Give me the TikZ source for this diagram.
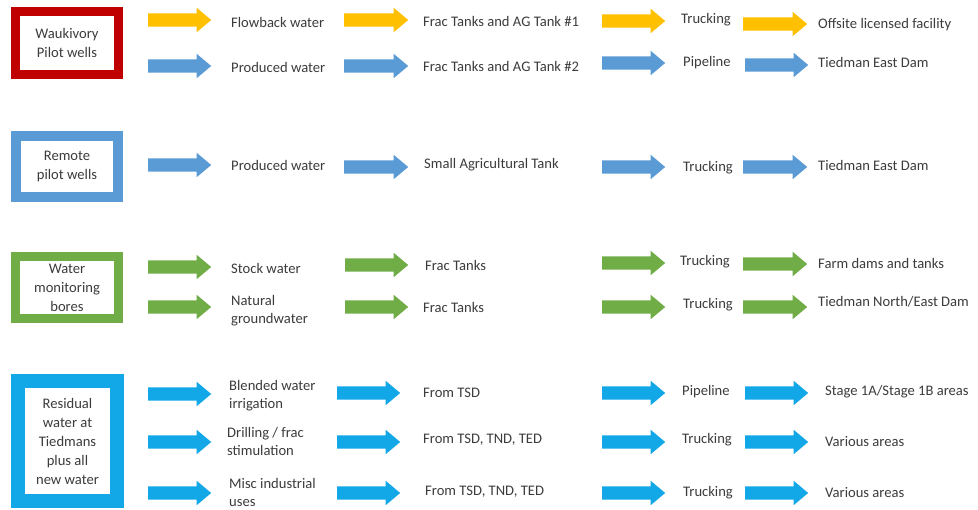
\documentclass[tikz,border=0pt]{standalone}
\usepackage{fontspec}
\setmainfont{Carlito}
\usetikzlibrary{shapes.arrows}
\definecolor{txt}{HTML}{3C3C3C}
\definecolor{cred}{HTML}{C00000}
\definecolor{cblue}{HTML}{5B9BD5}
\definecolor{cgreen}{HTML}{70AD47}
\definecolor{ccyan}{HTML}{12A8E8}
\definecolor{cyel}{HTML}{FFC000}
\tikzset{
  blk/.style={single arrow, fill=#1, draw=none, inner xsep=0pt, inner ysep=6.5pt,
    single arrow head extend=5.5pt, single arrow tip angle=80, anchor=west},
  lbl/.style={anchor=west, inner sep=0pt, text=txt, align=left,
    font=\fontsize{14.6}{18}\selectfont},
  srcbox/.style={draw=#1, fill=white, text=txt, align=center, inner sep=0pt,
    font=\fontsize{14.6}{19}\selectfont}
}
\newcommand\arr[5]{\node[blk=#2, minimum height={(#4-#3)*1pt}] (#1) at (#3,#5) {};}
\begin{document}
\begin{tikzpicture}[x=1pt,y=-1pt]
\useasboundingbox[fill=white] (0,0) rectangle (978,510);
% source boxes
\node[srcbox=cred, line width=9pt, minimum width=103pt, minimum height=63pt] (b1) at (67,43) {Waukivory\\Pilot wells};
\node[srcbox=cblue, line width=10pt, minimum width=102pt, minimum height=61pt] (b2) at (67,166.5) {Remote\\pilot wells};
\node[srcbox=cgreen, line width=9pt, minimum width=103pt, minimum height=62pt] (b3) at (67,287.5) {Water\\monitoring\\bores};
\node[srcbox=ccyan, line width=14pt, minimum width=99pt, minimum height=120pt] (b4) at (67.5,441) {Residual\\water at\\Tiedmans\\plus all\\new water};
% row 1
\arr{a11}{cyel}{148}{211}{20}
\node[lbl] (t11) at (231,22) {Flowback water};
\arr{a12}{cyel}{344}{408}{20}
\node[lbl] (t12) at (423,21) {Frac Tanks and AG Tank \#1};
\arr{a13}{cyel}{602}{665}{21}
\node[lbl] (t13) at (681,20) {Trucking};
\arr{a14}{cyel}{743}{807}{24}
\node[lbl] (t14) at (818,25) {Offsite licensed facility};
% row 2
\arr{a21}{cblue}{148}{211}{66}
\node[lbl] (t21) at (231,67) {Produced water};
\arr{a22}{cblue}{344}{408}{66}
\node[lbl] (t22) at (423,66) {Frac Tanks and AG Tank \#2};
\arr{a23}{cblue}{602}{665}{63}
\node[lbl] (t23) at (683,63) {Pipeline};
\arr{a24}{cblue}{745}{808}{65}
\node[lbl] (t24) at (818,62) {Tiedman East Dam};
% row 3
\arr{a31}{cblue}{148}{211}{165}
\node[lbl] (t31) at (231,165) {Produced water};
\arr{a32}{cblue}{344}{408}{167}
\node[lbl] (t32) at (424,165) {Small Agricultural Tank};
\arr{a33}{cblue}{602}{665}{167}
\node[lbl] (t33) at (683,168) {Trucking};
\arr{a34}{cblue}{743}{807}{167}
\node[lbl] (t34) at (818,165) {Tiedman East Dam};
% row 4
\arr{a41}{cgreen}{148}{211}{267}
\node[lbl] (t41) at (231,268) {Stock water};
\arr{a42}{cgreen}{345}{408}{265}
\node[lbl] (t42) at (425,265) {Frac Tanks};
\arr{a43}{cgreen}{602}{665}{263}
\node[lbl] (t43) at (680,262) {Trucking};
\arr{a44}{cgreen}{743}{807}{264}
\node[lbl] (t44) at (818,263) {Farm dams and tanks};
% row 5
\arr{a51}{cgreen}{148}{211}{307}
\node[lbl] (t51) at (231,311) {Natural\\groundwater};
\arr{a52}{cgreen}{345}{408}{307}
\node[lbl] (t52) at (423,307) {Frac Tanks};
\arr{a53}{cgreen}{602}{665}{307}
\node[lbl] (t53) at (683,305) {Trucking};
\arr{a54}{cgreen}{743}{807}{307}
\node[lbl] (t54) at (818,302) {Tiedman North/East Dam};
% row 6
\arr{a61}{ccyan}{148}{211}{394}
\node[lbl] (t61) at (229,396) {Blended water\\irrigation};
\arr{a62}{ccyan}{337}{400}{393}
\node[lbl] (t62) at (423,393) {From TSD};
\arr{a63}{ccyan}{602}{665}{393}
\node[lbl] (t63) at (682,392) {Pipeline};
\arr{a64}{ccyan}{745}{808}{393}
\node[lbl] (t64) at (825,392) {Stage 1A/Stage 1B areas};
% row 7
\arr{a71}{ccyan}{148}{211}{442}
\node[lbl] (t71) at (227,441) {Drilling / frac\\stimulation};
\arr{a72}{ccyan}{337}{400}{442}
\node[lbl] (t72) at (423,440) {From TSD, TND, TED};
\arr{a73}{ccyan}{602}{665}{442}
\node[lbl] (t73) at (682,440) {Trucking};
\arr{a74}{ccyan}{745}{808}{442}
\node[lbl] (t74) at (825,442) {Various areas};
% row 8
\arr{a81}{ccyan}{148}{211}{493}
\node[lbl] (t81) at (229,492) {Misc industrial\\uses};
\arr{a82}{ccyan}{337}{400}{493}
\node[lbl] (t82) at (425,492) {From TSD, TND, TED};
\arr{a83}{ccyan}{602}{665}{493}
\node[lbl] (t83) at (683,493) {Trucking};
\arr{a84}{ccyan}{745}{808}{493}
\node[lbl] (t84) at (825,493) {Various areas};
\end{tikzpicture}
\end{document}
